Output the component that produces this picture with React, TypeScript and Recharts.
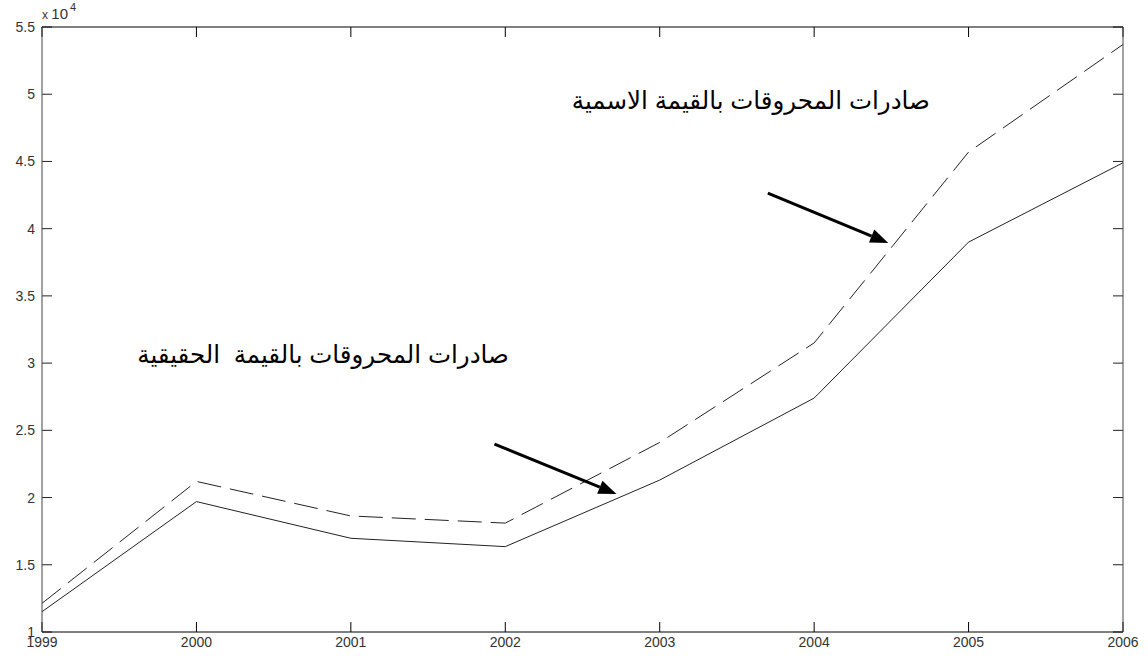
import React from 'react'
import {
  LineChart,
  Line,
  XAxis,
  YAxis,
  ReferenceLine,
  ReferenceDot,
} from 'recharts'

// years on the x axis
const years = [1999, 2000, 2001, 2002, 2003, 2004, 2005, 2006]
// fuel exports, nominal value (dashed)
const nominalValues = [12130, 21200, 18630, 18100, 24100, 31500, 45700, 53700]
// fuel exports, real value (solid)
const realValues = [11510, 19700, 16970, 16350, 21300, 27400, 39000, 44900]
const yTicks = [10000, 15000, 20000, 25000, 30000, 35000, 40000, 45000, 50000, 55000]

const nominalLabel = 'صادرات المحروقات بالقيمة الاسمية'
const realLabel = 'صادرات المحروقات بالقيمة  الحقيقية'

const data = years.map((year, i) => ({
  year,
  nominal: nominalValues[i],
  real: realValues[i],
}))

const W = 1148
const H = 658
const TICK_LEN = 10
const font = 'Arial, "Liberation Sans", "DejaVu Sans", sans-serif'
const arabicFont = 'Arial, "DejaVu Sans", "Liberation Sans", sans-serif'

function ScaleLabel(props: any) {
  const { viewBox } = props
  const x = viewBox.x + viewBox.width
  const y = viewBox.y - 8
  return (
    <text x={x} y={y} fill="#333" fontFamily={font}>
      <tspan fontSize={12}>x </tspan>
      <tspan fontSize={15}>10</tspan>
      <tspan dx={2} dy={-8} fontSize={11}>4</tspan>
    </text>
  )
}

// inward tick marks at both ends of a full-width horizontal reference line
function HTicks(props: any) {
  const { x1, y1, x2, y2 } = props
  const left = Math.min(x1, x2)
  const right = Math.max(x1, x2)
  return (
    <g>
      <line x1={left} y1={y1} x2={left + TICK_LEN} y2={y1} stroke="#222" strokeWidth={1} />
      <line x1={right - TICK_LEN} y1={y2} x2={right} y2={y2} stroke="#222" strokeWidth={1} />
    </g>
  )
}

// inward tick marks at both ends of a full-height vertical reference line
function VTicks(props: any) {
  const { x1, y1, x2, y2 } = props
  const top = Math.min(y1, y2)
  const bottom = Math.max(y1, y2)
  return (
    <g>
      <line x1={x1} y1={top} x2={x1} y2={top + TICK_LEN} stroke="#000" strokeWidth={1} />
      <line x1={x2} y1={bottom - TICK_LEN} x2={x2} y2={bottom} stroke="#000" strokeWidth={1} />
    </g>
  )
}

function Arrow(props: any) {
  const { x1, y1, x2, y2 } = props
  const dx = x2 - x1
  const dy = y2 - y1
  const len = Math.sqrt(dx * dx + dy * dy)
  const ux = dx / len
  const uy = dy / len
  const head = 18
  const half = 7
  const bx = x2 - ux * head
  const by = y2 - uy * head
  return (
    <g>
      <line x1={x1} y1={y1} x2={bx} y2={by} stroke="#000" strokeWidth={3} />
      <polygon
        points={`${x2},${y2} ${bx - uy * half},${by + ux * half} ${bx + uy * half},${by - ux * half}`}
        fill="#000"
      />
    </g>
  )
}

function ArabicText(value: string) {
  return (props: any) => (
    <text
      x={props.cx}
      y={props.cy}
      dy={8}
      textAnchor="middle"
      fontSize={24.5}
      fill="#000"
      fontFamily={arabicFont}
      style={{ whiteSpace: 'pre' }}
    >
      {value}
    </text>
  )
}

const blank = () => ''
const perTenThousand = (v: number) => String(v / 10000)

export default function App() {
  return (
    <div style={{ position: 'absolute', left: 0, top: 0, width: W, height: H, background: '#fff' }}>
      <LineChart width={W} height={H} data={data} margin={{ top: 26, right: 24, bottom: 6, left: 8 }}>
        <XAxis
          dataKey="year"
          type="number"
          domain={[1999, 2006]}
          ticks={years}
          interval={0}
          height={20}
          tickSize={0}
          tickMargin={5}
          stroke="#333"
          fontSize={14}
          fontFamily={font}
          axisLine={{ stroke: '#000' }}
          tickLine={false}
        />
        <XAxis
          xAxisId="top"
          orientation="top"
          dataKey="year"
          type="number"
          domain={[1999, 2006]}
          ticks={years}
          interval={0}
          height={1}
          tickSize={0}
          tickMargin={0}
          axisLine={{ stroke: '#000' }}
          tickLine={false}
          tickFormatter={blank}
        />
        <YAxis
          yAxisId="l"
          type="number"
          domain={[10000, 55000]}
          ticks={yTicks}
          interval={0}
          width={34}
          tickSize={0}
          tickMargin={7}
          stroke="#333"
          fontSize={14}
          fontFamily={font}
          axisLine={{ stroke: '#444' }}
          tickLine={false}
          tickFormatter={perTenThousand}
          label={{ content: (p: any) => <ScaleLabel {...p} /> }}
        />
        <YAxis
          yAxisId="r"
          orientation="right"
          type="number"
          domain={[10000, 55000]}
          ticks={yTicks}
          interval={0}
          width={1}
          tickSize={0}
          tickMargin={0}
          axisLine={{ stroke: '#444' }}
          tickLine={false}
          tickFormatter={blank}
        />
        {yTicks.map((v) => (
          <ReferenceLine key={`h${v}`} yAxisId="l" y={v} shape={(p: any) => <HTicks {...p} />} />
        ))}
        {years.map((yr) => (
          <ReferenceLine key={`v${yr}`} yAxisId="l" x={yr} shape={(p: any) => <VTicks {...p} />} />
        ))}
        <Line
          xAxisId="top"
          yAxisId="r"
          dataKey="nominal"
          type="linear"
          stroke="#222"
          strokeWidth={1}
          strokeDasharray="24 9"
          dot={false}
          isAnimationActive={false}
        />
        <Line
          yAxisId="l"
          dataKey="real"
          type="linear"
          stroke="#222"
          strokeWidth={1}
          dot={false}
          isAnimationActive={false}
        />
        <ReferenceLine
          yAxisId="l"
          segment={[
            { x: 2003.7, y: 42650 },
            { x: 2004.48, y: 38940 },
          ]}
          shape={(p: any) => <Arrow {...p} />}
        />
        <ReferenceLine
          yAxisId="l"
          segment={[
            { x: 2001.93, y: 23980 },
            { x: 2002.72, y: 20260 },
          ]}
          shape={(p: any) => <Arrow {...p} />}
        />
        <ReferenceDot yAxisId="l" x={2003.59} y={49500} r={1} shape={ArabicText(nominalLabel)} />
        <ReferenceDot yAxisId="l" x={2000.82} y={30600} r={1} shape={ArabicText(realLabel)} />
      </LineChart>
    </div>
  )
}
